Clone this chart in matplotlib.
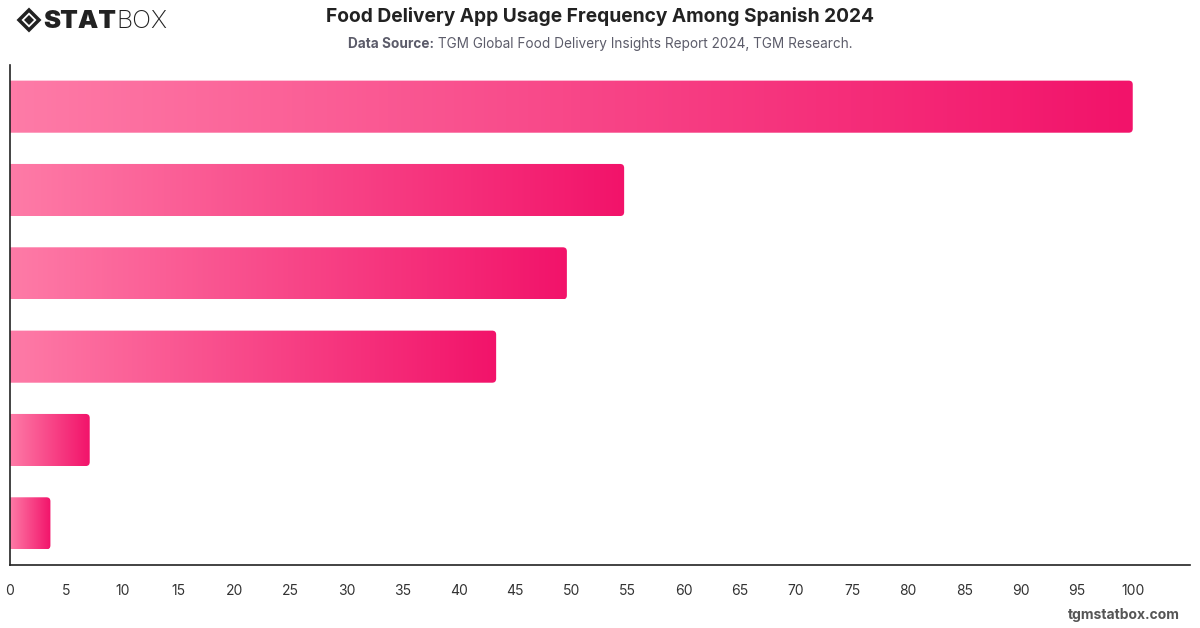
import numpy as np
import matplotlib
matplotlib.use("Agg")
import matplotlib.pyplot as plt
from matplotlib.path import Path
from matplotlib.patches import PathPatch, Polygon
from matplotlib.colors import LinearSegmentedColormap

# data (category labels are not shown in the chart)
categories = ["Bar 1", "Bar 2", "Bar 3", "Bar 4", "Bar 5", "Bar 6"]
values = [100.0, 54.7, 49.6, 43.3, 7.1, 3.6]
x_ticks = list(range(0, 101, 5))

title = "Food Delivery App Usage Frequency Among Spanish 2024"
source_label = "Data Source:"
source_text = " TGM Global Food Delivery Insights Report 2024, TGM Research."

plt.rcParams["font.family"] = ["Inter", "DejaVu Sans"]

W, H = 1200, 628
fig = plt.figure(figsize=(W / 100, H / 100), dpi=100)
fig.patch.set_facecolor("white")

ax_left, ax_right, ax_top, ax_bottom = 10, 1190, 65, 565
ax = fig.add_axes([ax_left / W, 1 - ax_bottom / H,
                   (ax_right - ax_left) / W, (ax_bottom - ax_top) / H])

x_max = 105.1
ax.set_xlim(0, x_max)
ax.set_ylim(len(categories) - 0.5, -0.5)

cmap = LinearSegmentedColormap.from_list("pinks", ["#fe7ba7", "#f2136a"])
grad = np.linspace(0, 1, 256).reshape(1, -1)

bar_h = 0.625
px_per_x = (ax_right - ax_left) / x_max
px_per_y = (ax_bottom - ax_top) / len(categories)
rx = 4 / px_per_x
ry = 4 / px_per_y

for i, v in enumerate(values):
    y0, y1 = i - bar_h / 2, i + bar_h / 2
    verts = [(0, y0), (v - rx, y0), (v, y0), (v, y0 + ry),
             (v, y1 - ry), (v, y1), (v - rx, y1), (0, y1), (0, y0)]
    codes = [Path.MOVETO, Path.LINETO, Path.CURVE3, Path.CURVE3,
             Path.LINETO, Path.CURVE3, Path.CURVE3, Path.LINETO, Path.CLOSEPOLY]
    patch = PathPatch(Path(verts, codes), facecolor="none", edgecolor="none")
    ax.add_patch(patch)
    im = ax.imshow(grad, cmap=cmap, aspect="auto", extent=[0, v, y1, y0],
                   interpolation="bilinear", zorder=2)
    im.set_clip_path(patch)

ax.set_xlim(0, x_max)
ax.set_ylim(len(categories) - 0.5, -0.5)

ax.set_xticks(x_ticks)
ax.set_xticklabels([str(t) for t in x_ticks])
ax.set_yticks([])
ax.tick_params(axis="x", length=0, pad=14, labelsize=10, labelcolor="#333333")
for lbl in ax.get_xticklabels():
    lbl.set_x(lbl.get_position()[0])
for s in ["top", "right"]:
    ax.spines[s].set_visible(False)
for s in ["left", "bottom"]:
    ax.spines[s].set_color("#222222")
    ax.spines[s].set_linewidth(1.2)

# title and source
fig.text(600 / W, 1 - 17 / H, title, ha="center", va="center",
         fontsize=13.8, fontweight="bold", color="#222222")
src1 = fig.text(0, 1 - 44 / H, source_label, ha="left", va="center",
                fontsize=9.8, fontweight="bold", color="#5c5c6a")
src2 = fig.text(0, 1 - 44 / H, source_text, ha="left", va="center",
                fontsize=9.8, color="#5c5c6a")
fig.canvas.draw()
r = fig.canvas.get_renderer()
w1 = src1.get_window_extent(r).width
w2 = src2.get_window_extent(r).width
start = 600 - (w1 + w2) / 2
src1.set_x(start / W)
src2.set_x((start + w1) / W)

# logo
cx, cy, s = 29, 20, 10
outer = Polygon([(cx - s, cy), (cx, cy - s), (cx + s, cy), (cx, cy + s)],
                closed=True, transform=None, facecolor="none",
                edgecolor="#222222", linewidth=2.5)
inner = Polygon([(cx - 5, cy), (cx, cy - 5), (cx + 5, cy), (cx, cy + 5)],
                closed=True, transform=None, facecolor="#222222",
                edgecolor="none")
for p in (outer, inner):
    p.set_xy([(x, H - y) for x, y in p.get_xy()])
    fig.patches.append(p)
logo1 = fig.text(43 / W, 1 - 21 / H, "STAT", ha="left", va="center",
                 fontsize=18.5, fontweight="black", color="#222222")
fig.canvas.draw()
lw = logo1.get_window_extent(r).width
fig.text((43 + lw) / W, 1 - 21 / H, "BOX", ha="left", va="center",
         fontsize=18, fontweight="light", color="#222222")

fig.text(1180 / W, 1 - 615 / H, "tgmstatbox.com", ha="right", va="center",
         fontsize=10, fontweight="bold", color="#555555")

fig.savefig("out.png", dpi=100, facecolor="white")
